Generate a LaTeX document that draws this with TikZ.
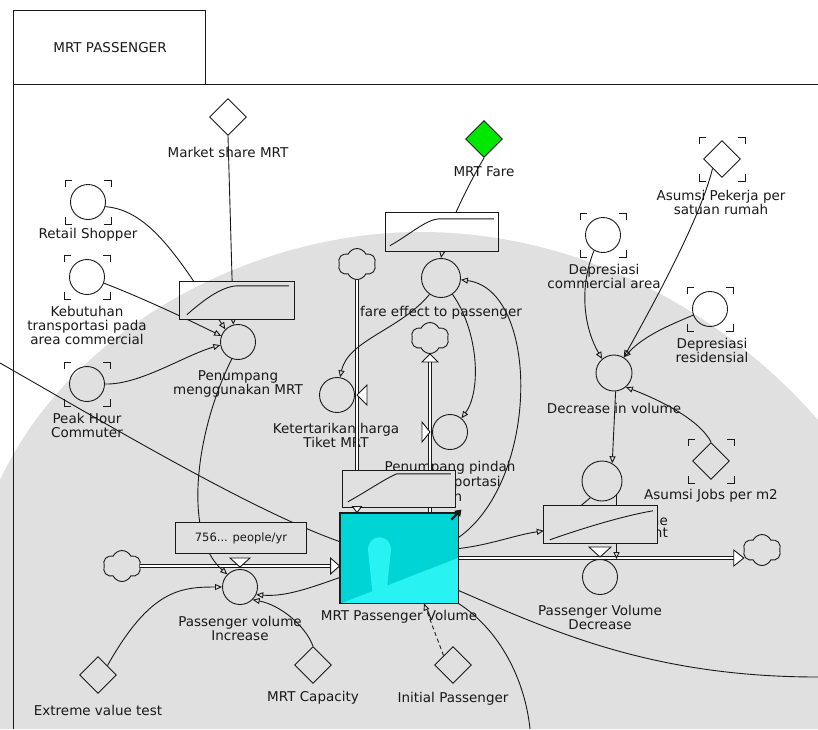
\documentclass[tikz,border=0pt]{standalone}
\usepackage{fontspec}
\setmainfont{DejaVu Sans}
\usetikzlibrary{arrows.meta,shapes.geometric,shapes.symbols,calc}

\definecolor{ink}{RGB}{25,25,25}
\definecolor{wm}{RGB}{224,224,224}
\definecolor{stockcyan}{RGB}{0,212,212}
\definecolor{stocklight}{RGB}{40,242,242}
\definecolor{faregreen}{RGB}{0,232,0}

\tikzset{
  base/.style={line width=0.9pt, draw=ink},
  conv/.style={base, circle, minimum size=35pt, inner sep=0pt},
  const/.style={base, diamond, minimum width=37pt, minimum height=37pt, inner sep=0pt},
  lbl/.style={font=\fontsize{13.5}{14}\selectfont, align=center, inner sep=0pt, text=ink},
  boxshape/.style={rectangle, inner sep=0pt},
  link/.style={base, -{Triangle[open,length=7pt,width=6pt]}},
  plain/.style={base},
  pipe/.style={line width=0.8pt, draw=ink, double=white, double distance=2.2pt},
  puff/.style={base, cloud, cloud puffs=6, cloud puff arc=130, cloud ignores aspect,
               minimum width=38pt, minimum height=31pt, inner sep=0pt},
  brk/.style={base, line width=0.8pt},
  tip/.style={base, fill=white, line join=miter},
}

% background emblem
\newcommand{\wmark}{%
  \fill[wm] (0,480) .. controls (70,330) and (250,232) .. (420,232)
            .. controls (600,232) and (740,330) .. (818,420)
            -- (818,729) -- (0,729) -- cycle;
}

% corner marks around a ghosted entity
\newcommand{\ghost}[1]{%
  \draw[brk] ($(#1)+(-23,-15)$) -- ++(0,-7) -- ++(7,0);
  \draw[brk] ($(#1)+(16,-22)$) -- ++(7,0) -- ++(0,7);
  \draw[brk] ($(#1)+(-23,15)$) -- ++(0,7) -- ++(7,0);
  \draw[brk] ($(#1)+(16,22)$) -- ++(7,0) -- ++(0,-7);
}

% opaque graph overlay of a converter
\newcommand{\graphbox}[1]{%
  \fill[white] (#1.south west) rectangle (#1.north east);
  \begin{scope}
    \clip (#1.south west) rectangle (#1.north east);
    \wmark
  \end{scope}
  \draw[base] (#1.south west) rectangle (#1.north east);
}

\begin{document}
\begin{tikzpicture}[x=1pt,y=-1pt]
\useasboundingbox (0,0) rectangle (818,729);
\wmark

% model sector frame
\draw[base] (13,729) -- (13,10) -- (205,10) -- (205,84);
\draw[base] (13,84) -- (818,84);
\node[lbl] (title) at (110,48) {MRT PASSENGER};

% ---------- entities ----------
\node[const] (ms) at (228,117) {};
\node[lbl] (msL) at (228,152) {Market share MRT};
\path node[boxshape, minimum width=114pt, minimum height=37pt] (gMS) at (237,300.5) {};

\node[conv] (rs) at (88,202) {};
\node[lbl] (rsL) at (88,235) {Retail Shopper};
\node[conv] (kt) at (87,277) {};
\node[lbl] (ktL) at (87,325) {Kebutuhan\\transportasi pada\\area commercial};
\node[conv] (ph) at (87,384) {};
\node[lbl] (phL) at (87,425) {Peak Hour\\Commuter};
\node[conv] (pm) at (238,342) {};
\node[lbl] (pmL) at (238,384) {Penumpang\\menggunakan MRT};

\node[const, fill=faregreen] (fare) at (484,139) {};
\node[lbl] (fareL) at (484,172) {MRT Fare};
\path node[boxshape, minimum width=112pt, minimum height=38pt] (gFare) at (442,232) {};
\node[conv, minimum size=39pt] (fe) at (441,278) {};
\node[lbl] (feL) at (441,313) {fare effect to passenger};

\node[puff] (cK) at (357,264) {};
\node[conv] (ket) at (337,395) {};
\node[lbl] (ketL) at (336,435) {Ketertarikan harga\\Tiket MRT};
\node[puff] (cP) at (430,338) {};
\node[conv] (pin) at (450,432) {};
\node[lbl, font=\fontsize{13.5}{15}\selectfont] (pinL) at (450,481) {Penumpang pindah\\ke transportasi\\lain};
\path node[boxshape, minimum width=112pt, minimum height=36pt] (gC) at (399,489) {};

\node[base, rectangle, fill=stockcyan, minimum width=118pt, minimum height=90pt, inner sep=0pt] (stock) at (399,558) {};
\node[lbl] (stockL) at (399,617) {MRT Passenger Volume};

\node[conv, minimum size=36pt] (dv) at (614,373) {};
\node[lbl] (dvL) at (614,408) {Decrease in volume};
\node[conv] (dca) at (603,235) {};
\node[lbl] (dcaL) at (604,276) {Depresiasi\\commercial area};
\node[conv] (dres) at (710,309) {};
\node[lbl] (dresL) at (712,350) {Depresiasi\\residensial};
\node[const] (apr) at (722,159) {};
\node[lbl] (aprL) at (721,202) {Asumsi Pekerja per\\satuan rumah};
\node[const] (ajm) at (711,461) {};
\node[lbl] (ajmL) at (711,496) {Asumsi Jobs per m2};
\node[conv, minimum size=40pt] (cv2) at (602,481) {};
\node[lbl, anchor=east] (cv2a) at (668,520) {he};
\node[lbl, anchor=east] (cv2b) at (668,533) {nt};
\path node[boxshape, minimum width=113pt, minimum height=37pt] (gD) at (600.5,524.5) {};
\node[conv] (pvd) at (600,577) {};
\node[lbl] (pvdL) at (600,617) {Passenger Volume\\Decrease};
\node[puff] (cD) at (762,550) {};

\node[conv] (pvi) at (240,587) {};
\node[lbl] (pviL) at (240,628) {Passenger volume\\Increase};
\node[puff] (cI) at (122,566) {};
\path node[boxshape, minimum width=130pt, minimum height=30pt] (g756) at (241,538) {};
\node[const] (evt) at (98,675) {};
\node[lbl] (evtL) at (98,710) {Extreme value test};
\node[const] (cap) at (313,665) {};
\node[lbl] (capL) at (313,698) {MRT Capacity};
\node[const] (ip) at (453,665) {};
\node[lbl] (ipL) at (453,699) {Initial Passenger};

\coordinate (lft) at (0,363);
\coordinate (rgt) at (818,677);
\coordinate (bot) at (530,729);

\ghost{rs} \ghost{kt} \ghost{ph} \ghost{dca} \ghost{dres} \ghost{apr} \ghost{ajm}

% ---------- flows ----------
\coordinate (inEnd) at (stock.west |- cI.east);
\draw[pipe] (cI.east) -- ($(inEnd)+(-9,0)$);
\draw[tip] (inEnd) -- ++(-9,-8) -- ++(0,16) -- cycle;
\draw[tip] ($(pvi)+(-10,-29)$) -- ($(pvi)+(10,-29)$) -- ($(pvi)+(0,-20)$) -- cycle;

\coordinate (kEnd) at (cK.south |- stock.north);
\draw[pipe] (cK.south) -- ($(kEnd)+(0,-6)$);
\draw[tip] ($(ket)+(20,0)$) -- ($(ket)+(30,-10)$) -- ($(ket)+(30,10)$) -- cycle;

\coordinate (pEnd) at (cP.south);
\draw[pipe] (pEnd |- stock.north) -- ($(pEnd)+(0,8)$);
\draw[tip] (pEnd) -- ++(-8,8) -- ++(16,0) -- cycle;
\draw[tip] ($(pin)+(-20,0)$) -- ($(pin)+(-28,-10)$) -- ($(pin)+(-28,10)$) -- cycle;

\coordinate (dEnd) at (cD.west |- stock.east);
\draw[pipe] (stock.east) -- ($(dEnd)+(-10,0)$);
\draw[tip] (dEnd) -- ++(-10,-8) -- ++(0,16) -- cycle;
\draw[tip] ($(pvd)+(-11,-30)$) -- ($(pvd)+(11,-30)$) -- ($(pvd)+(0,-20)$) -- cycle;

% ---------- connectors ----------
\draw[link] (rs.-15) .. controls (150,210) and (180,260) .. (pm.135);
\draw[link] (ms.south) -- (pm.105);
\draw[link] (kt.-20) .. controls (140,297) and (185,318) .. (pm.160);
\draw[link] (ph.0) .. controls (140,385) and (185,355) .. (pm.190);
\draw[link] (pm.250) .. controls (196,430) and (182,535) .. (pvi.135);

\draw[plain] (lft) .. controls (100,420) and (250,510) .. ($(stock.north west)+(0,29)$);
\draw[link] ($(stock.north west)+(0,65)$) .. controls (310,588) and (285,597) .. (pvi.-25);
\draw[link] (evt.north east) .. controls (150,590) and (180,587) .. (pvi.180);
\draw[link] (cap.north) .. controls (305,625) and (280,605) .. (pvi.-45);
\draw[link, dash pattern=on 4pt off 3pt] (ip.north west) -- ($(stock.south)+(25,0)$);
\draw[plain] ($(stock.south east)+(0,-13)$) .. controls (550,630) and (650,677) .. (rgt);
\draw[plain] (stock.south east) .. controls (500,630) and (525,680) .. (bot);

\draw[link] (fare.south) .. controls (468,185) and (446,230) .. (fe.north);
\draw[link] (fe.235) .. controls (400,330) and (348,340) .. (ket.80);
\draw[link] (fe.-55) .. controls (478,330) and (482,390) .. (pin.50);
\draw[link] ($(stock.north east)+(0,25)$) .. controls (540,480) and (540,290) .. (fe.-5);

\draw[link] (dca.240) .. controls (578,290) and (585,330) .. (dv.130);
\draw[link] (dres.200) .. controls (670,325) and (645,335) .. (dv.58);
\draw[link] (apr.south west) .. controls (700,220) and (650,310) .. (dv.58);
\draw[link] (ajm.north) .. controls (700,420) and (660,400) .. (dv.-50);
\draw[link] (dv.-85) -- (cv2.60);
\draw[link] (cv2.-45) -- (cv2.-45 |- pvd.north);
\draw[plain] (cv2.235) -- ($(gD.north west)+(25,10)$);
\draw[link] ($(stock.north east)+(0,36)$) .. controls (490,545) and (515,535) .. ($(gD.north west)+(0,25)$);

% ---------- graph overlays ----------
\graphbox{gMS}
\begin{scope}[shift={(gMS.north west)}]
  \draw[base] (7,33) .. controls (25,17) and (42,5) .. (57,4) -- (109,4);
\end{scope}
\graphbox{gFare}
\begin{scope}[shift={(gFare.north west)}]
  \draw[base] (4,33) .. controls (25,21) and (40,7) .. (53,6) -- (108,6);
\end{scope}
\graphbox{gC}
\begin{scope}[shift={(gC.north west)}]
  \draw[base] (5,31) .. controls (25,20) and (42,8) .. (54,3) -- (108,3);
\end{scope}
\graphbox{gD}
\begin{scope}[shift={(gD.north west)}]
  \draw[base] (6,34) .. controls (40,22) and (80,10) .. (109,5);
\end{scope}
\graphbox{g756}
\node[lbl, font=\fontsize{11.5}{12}\selectfont] (g756t) at (g756) {756... people/yr};

% pipe tip into the stock below the overlay
\draw[tip] (kEnd) -- ++(-4.5,-6) -- ++(9,0) -- cycle;

% stock shading
\begin{scope}
  \clip (stock.south west) rectangle (stock.north east);
  \fill[stocklight] (373,597) -- (368,550) .. controls (368,533) and (391,533) .. (391,550) -- (386,597) -- cycle;
  \fill[stocklight] (342,603) -- (458,558) -- (458,603) -- cycle;
\end{scope}
\draw[base] (stock.south west) rectangle (stock.north east);
\draw[line width=2.4pt, draw=ink, -{Triangle[length=6pt,width=8pt]}] ($(stock.north east)+(-7,7)$) -- ($(stock.north east)+(3,-3)$);
\end{tikzpicture}
\end{document}
